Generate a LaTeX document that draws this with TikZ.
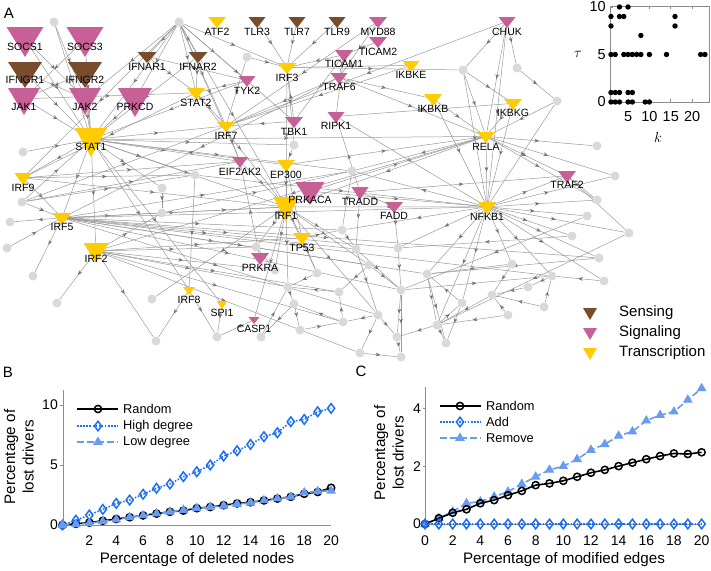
\documentclass[tikz,border=0pt]{standalone}
\usepackage{fontspec}
\setmainfont{Liberation Sans}
\usetikzlibrary{arrows.meta,decorations.markings,plotmarks}
\pgfdeclarelayer{bg}\pgfdeclarelayer{fg}\pgfsetlayers{bg,main,fg}
\definecolor{brownc}{RGB}{121,76,44}
\definecolor{pinkc}{RGB}{200,96,152}
\definecolor{yellowc}{RGB}{255,204,0}
\definecolor{bluec}{RGB}{30,110,245}
\definecolor{lbluec}{RGB}{105,155,240}
\definecolor{axisc}{RGB}{140,140,140}
\tikzset{
 edge/.style={draw=black!40, line width=0.5pt, postaction={decorate},
   decoration={markings, mark=at position 0.5 with {\arrow[black!55]{Stealth[length=4.8pt,width=3.8pt]}}}},
 gnode/.style={circle, fill=black!15, minimum size=9pt, inner sep=0pt},
 lbl/.style={font=\fontsize{10.5}{12}\selectfont, inner sep=0pt},
 panel/.style={font=\fontsize{15}{18}\selectfont, inner sep=0pt},
 tick/.style={font=\fontsize{14}{16}\selectfont, inner sep=0pt},
 axlab/.style={font=\fontsize{15.2}{18.5}\selectfont, inner sep=0pt, align=center},
 legtext/.style={font=\fontsize{15}{18}\selectfont, inner sep=0pt, anchor=west},
 plegtext/.style={font=\fontsize{12.8}{15}\selectfont, inner sep=0pt, anchor=west},
 axisline/.style={draw=axisc, line width=0.8pt},
 rnd/.style={black, line width=1.6pt, mark=o, mark size=3.6pt, mark options={solid, line width=1.5pt, fill=black!45}},
 high/.style={bluec, line width=1.6pt, dash pattern=on 1.5pt off 1.6pt, mark=diamond, mark size=4.8pt, mark options={solid, line width=1.5pt, fill=white}},
 low/.style={lbluec, line width=1.6pt, dash pattern=on 7pt off 3pt, mark=triangle*, mark size=4.6pt, mark options={solid, line width=1pt, fill=lbluec}},
}
\newcommand\tri[8]{%
  \fill[#6] ({#2-#4/2},#3) -- ({#2+#4/2},#3) -- (#2,{#3+#5}) -- cycle;
  \coordinate (#1) at (#2,{#3+#5*0.4});
  \begin{pgfonlayer}{fg}\node[lbl] (#1-l) at (#2,#8) {#7};\end{pgfonlayer}%
}
\begin{document}
\begin{tikzpicture}[x=1pt,y=-1pt]
\useasboundingbox (0,0) rectangle (711,570);
% ---------------- network: triangles
\tri{SOCS1}{25}{27}{37}{30}{pinkc}{SOCS1}{47}
\tri{SOCS3}{85}{27}{37}{30}{pinkc}{SOCS3}{47}
\tri{IFNGR1}{25}{62}{34}{26}{brownc}{IFNGR1}{80}
\tri{IFNGR2}{85}{62}{34}{26}{brownc}{IFNGR2}{80}
\tri{JAK1}{24}{88}{32}{27}{pinkc}{JAK1}{107}
\tri{JAK2}{85}{88}{32}{27}{pinkc}{JAK2}{107}
\tri{PRKCD}{135}{88}{34}{29}{pinkc}{PRKCD}{107}
\tri{STAT1}{91}{128}{32}{29}{yellowc}{STAT1}{147}
\tri{ATF2}{217}{17}{18}{11}{yellowc}{ATF2}{32}
\tri{IFNAR1}{147}{52}{19}{11}{brownc}{IFNAR1}{67}
\tri{IFNAR2}{198}{52}{19}{11}{brownc}{IFNAR2}{67}
\tri{STAT2}{196}{88}{18}{12}{yellowc}{STAT2}{103}
\tri{IRF7}{226}{122}{18}{10}{yellowc}{IRF7}{136}
\tri{TLR3}{257}{17}{17}{11}{brownc}{TLR3}{32}
\tri{TLR7}{297}{17}{17}{11}{brownc}{TLR7}{32}
\tri{TLR9}{337}{17}{17}{11}{brownc}{TLR9}{32}
\tri{MYD88}{378}{17}{18}{11}{pinkc}{MYD88}{32}
\tri{TICAM2}{378}{37}{18}{11}{pinkc}{TICAM2}{52}
\tri{TICAM1}{344}{50}{18}{12}{pinkc}{TICAM1}{64}
\tri{IRF3}{287}{63}{19}{11}{yellowc}{IRF3}{78}
\tri{TYK2}{247}{76}{17}{11}{pinkc}{TYK2}{91}
\tri{TRAF6}{339}{73}{17}{11}{pinkc}{TRAF6}{87}
\tri{IKBKE}{411}{61}{17}{11}{yellowc}{IKBKE}{75}
\tri{IKBKB}{433}{94}{18}{12}{yellowc}{IKBKB}{109}
\tri{TBK1}{294}{117}{18}{11}{pinkc}{TBK1}{132}
\tri{RIPK1}{336}{112}{17}{11}{pinkc}{RIPK1}{126}
\tri{CHUK}{507}{17}{17}{11}{pinkc}{CHUK}{32}
\tri{IKBKG}{513}{99}{18}{11}{yellowc}{IKBKG}{113}
\tri{RELA}{486}{132}{18}{11}{yellowc}{RELA}{147}
\tri{EIF2AK2}{240}{157}{16}{11}{pinkc}{EIF2AK2}{172}
\tri{IRF9}{23}{173}{17}{12}{yellowc}{IRF9}{188}
\tri{IRF5}{62}{213}{19}{12}{yellowc}{IRF5}{227}
\tri{IRF2}{96}{243}{25}{20}{yellowc}{IRF2}{259}
\tri{EP300}{286}{160}{18}{12}{yellowc}{EP300}{175}
\tri{PRKACA}{310}{182}{29}{23}{pinkc}{PRKACA}{200}
\tri{IRF1}{286}{197}{25}{25}{yellowc}{IRF1}{216}
\tri{TRADD}{360}{187}{17}{13}{pinkc}{TRADD}{202}
\tri{FADD}{394}{202}{18}{11}{pinkc}{FADD}{216}
\tri{TP53}{302}{233}{18}{12}{yellowc}{TP53}{248}
\tri{PRKRA}{260}{253}{18}{12}{pinkc}{PRKRA}{268}
\tri{TRAF2}{567}{171}{18}{12}{pinkc}{TRAF2}{185}
\tri{NFKB1}{487}{202}{18}{12}{yellowc}{NFKB1}{217}
\tri{IRF8}{189}{287}{12}{8}{yellowc}{IRF8}{300}
\tri{SPI1}{222}{301}{11}{8}{yellowc}{SPI1}{313}
\tri{CASP1}{254}{317}{11}{7}{pinkc}{CASP1}{329}
% ---------------- gray nodes
\foreach \n/\x/\y in {g1/54/22, g2/179/22, g3/247/57, g4/463/70, g5/517/68, g6/557/101,
  g7/597/146, g8/294/145, g9/23/152, g10/195/175, g11/162/188, g12/162/213, g13/22/202,
  g14/10/222, g15/7/248, g16/33/276, g17/352/171, g18/342/230, g19/256/247, g20/356/249,
  g21/398/248, g22/369/265, g23/317/273, g24/275/270, g25/427/274, g26/288/287, g27/401/290,
  g28/615/176, g29/597/200, g30/587/216, g31/629/233, g32/572/236, g33/599/258, g34/512/264,
  g35/552/276, g36/604/281, g37/528/287, g38/492/295, g39/462/303, g40/544/307, g41/378/315,
  g42/508/315, g43/343/322, g44/437/325, g45/397/337, g46/446/343, g47/360/353, g48/401/357,
  g49/57/303, g50/152/299, g51/217/337, g52/156/341, g53/261/337, g54/294/304, g55/300/330,
  g56/339/292}
  \node[gnode] (\n) at (\x,\y) {};
% ---------------- edges
\begin{pgfonlayer}{bg}
\foreach \a/\b in {g1/STAT1, g1/JAK2, SOCS1/JAK2, SOCS1/STAT1, SOCS3/JAK1, SOCS3/STAT1,
  IFNGR1/JAK2, IFNGR2/JAK1, IFNGR1/STAT1, IFNGR2/STAT1, JAK1/STAT1, JAK2/STAT1, JAK1/STAT2,
  PRKCD/STAT1, g2/IFNAR1, g2/IFNAR2, g2/STAT2, g2/IRF7, g2/TYK2, g2/IRF3, g2/STAT1, g2/JAK2,
  g2/PRKCD, g2/IRF9, g2/EIF2AK2, g2/IRF1, g2/TBK1, IFNAR1/TYK2, IFNAR1/STAT2, IFNAR2/STAT1,
  IFNAR2/STAT2, TYK2/STAT2, TYK2/STAT1, STAT2/IRF9, STAT2/IRF7, STAT2/IRF1, STAT1/IRF1,
  STAT1/IRF9, STAT1/IRF5, STAT1/IRF2, STAT1/g11, STAT1/g10, STAT1/EIF2AK2, STAT1/IRF8,
  STAT1/SPI1, STAT1/g17, STAT1/IRF7, STAT1/g8, STAT1/RELA, g9/STAT1, IRF9/g10, IRF9/IRF5,
  IRF9/EIF2AK2, IRF9/IRF1, g13/g10, g13/EIF2AK2, g13/STAT1, g13/IRF5, g13/IRF7,
  IRF5/g14, IRF5/g16, IRF5/g12, IRF5/g18, IRF5/g20, IRF5/g21, IRF5/g22, IRF5/g25, IRF5/g27,
  IRF5/g35, IRF5/g33, IRF5/g41, IRF5/IRF1, IRF5/g17, g15/IRF5,
  IRF2/g49, IRF2/g52, IRF2/g12, IRF2/g19, IRF2/g26, IRF2/g43, IRF2/g47, IRF2/g56, IRF2/TP53,
  IRF2/g24, IRF8/g52, IRF8/g51, SPI1/g51, g10/IRF8, IRF1/g50, CASP1/g51, g54/g53,
  TLR3/IRF3, TLR7/IRF3, TLR9/IRF3, MYD88/TRAF6, MYD88/IRF7, TICAM2/TICAM1, TICAM1/IRF3,
  TICAM1/TRAF6, TICAM1/TBK1, TICAM1/RIPK1, TRAF6/IKBKB, TRAF6/IRF7, TRAF6/IRF5, TRAF6/RELA,
  TBK1/IRF3, TBK1/IRF7, IKBKE/IRF3, IKBKE/IRF7, RIPK1/IKBKG, RIPK1/NFKB1, g3/IRF3, g3/IRF7,
  IRF3/g4, IRF3/IRF1, IRF3/g8, IRF7/EIF2AK2,
  CHUK/g4, CHUK/g5, CHUK/IRF7, CHUK/RELA, CHUK/NFKB1, g5/g6, g6/RELA, g6/NFKB1, g4/RELA,
  g4/NFKB1, g4/IKBKG, IKBKB/NFKB1, IKBKB/RELA, IKBKG/NFKB1, IKBKG/RELA, RELA/NFKB1, RELA/g7,
  RELA/g28, RELA/TRAF2, RELA/IRF1, RELA/g17, RELA/IRF2, RELA/g29,
  NFKB1/TRAF2, NFKB1/g29, NFKB1/g30, NFKB1/g31, NFKB1/g32, NFKB1/g33, NFKB1/g34, NFKB1/g35,
  NFKB1/IRF1, NFKB1/g18, NFKB1/g21, NFKB1/g25, NFKB1/g28, NFKB1/IRF5, NFKB1/g17, NFKB1/g36,
  NFKB1/g39, NFKB1/g44, TRAF2/g29, TRAF2/g31, TRADD/TRAF2, TRADD/RIPK1, TRADD/FADD,
  TRADD/g20, FADD/g21, EP300/IRF1, EP300/TP53, EP300/RELA, EP300/STAT1, PRKACA/RELA,
  PRKACA/NFKB1, EIF2AK2/IRF1, PRKRA/EIF2AK2, IRF1/TP53, IRF1/g19, IRF1/g24, IRF1/g26,
  IRF1/g23, IRF1/g22, IRF1/g20, IRF1/g41, IRF1/CASP1, TP53/g23, TP53/g18, g17/g18,
  g8/EP300, g11/g12, g12/IRF1, g12/g17, g10/NFKB1,
  g18/g20, g20/g41, g21/g27, g22/g27, g25/g44, g25/g46, g27/g45, g27/g48, g41/g43, g41/g45,
  g44/g39, g44/g46, g45/g48, g47/g48, g41/g47, g43/g56, g56/g26, g26/g54, g54/g55, g23/g26,
  g19/g24, g44/g45, g38/g44, g39/g25, g37/g38, g40/g38, g42/g38, g35/g37, g36/g35, g34/g25,
  g30/g27, g32/g21, g34/g38, g42/g44, g39/g46, g40/g35, g22/g56, g43/g54, g55/g43, g53/g26,
  g20/g27, g27/g35, g31/g44, g33/g25}
  \draw[edge] (\a) -- (\b);
\end{pgfonlayer}
\node[panel] (labA) at (9,13) {A};
% ---------------- inset scatter
\draw[axisline] (610,6) rectangle (709.5,102);
\foreach \t/\yy in {0/102, 5/54.5, 10/7}{
  \draw[axisline] (610,\yy) -- (613,\yy);
  \node[tick, anchor=east] (ty\t) at (606,\yy) {\fontsize{14.5}{16}\selectfont\t};}
\foreach \k in {5,10,15,20}{
  \draw[axisline] ({606.7+4.27*\k},102) -- ({606.7+4.27*\k},99);
  \draw[axisline] ({606.7+4.27*\k},6) -- ({606.7+4.27*\k},9);
  \node[tick] (tk\k) at ({606.7+4.27*\k},117) {\fontsize{14.5}{16}\selectfont\k};}
\node[tick] (tau) at (578,54) {\fontsize{15}{17}\selectfont$\tau$};
\node[tick] (kk) at (658,137) {\fontsize{15}{17}\selectfont$k$};
\foreach \k/\t in {3/10,5/10, 1/9,3/9,4/9,16/9, 1/8,16/8, 8/7,
   1/5,2/5,4/5,5/5,6/5,7/5,8/5,10/5,14/5,22/5,23/5,
   1/1,2/1,3/1,5/1,6/1, 1/0,2/0,3/0,5/0,6/0,9/0,10/0}
  \fill[black] ({606.7+4.27*\k},{102-9.5*\t}) circle (2.7);
% ---------------- legend
\fill[brownc] (583,308) -- (597,308) -- (590,320) -- cycle;
\fill[pinkc] (583,328) -- (597,328) -- (590,340) -- cycle;
\fill[yellowc] (583,348) -- (597,348) -- (590,360) -- cycle;
\node[legtext] (lsen) at (619,313) {Sensing};
\node[legtext] (lsig) at (619,333) {Signaling};
\node[legtext] (ltra) at (619,353) {Transcription};
% ---------------- panel B
\node[panel] (labB) at (8,372) {B};
\draw[axisline] (63,390) -- (63,525) -- (331,525);
\foreach \v/\yy in {0/525,5/465,10/405}{
  \draw[axisline] (63,\yy) -- (60,\yy);
  \node[tick, anchor=east] (by\v) at (58,\yy) {\v};}
\foreach \v in {2,4,...,20}{
  \node[tick] (bx\v) at ({62.5+13.43*\v},541) {\v};}
\node[axlab] (bxl) at (197,560) {Percentage of deleted nodes};
\node[axlab, rotate=90] (byl) at (19,457) {Percentage of\\lost drivers};
\begin{scope}[shift={(62.5,525)}, x=13.43pt, y=12pt]
\draw[rnd] plot coordinates {(0,0)(1,0.1)(2,0.2)(3,0.35)(4,0.5)(5,0.65)(6,0.8)(7,0.95)(8,1.1)(9,1.2)(10,1.4)(11,1.5)(12,1.65)(13,1.8)(14,1.9)(15,2.05)(16,2.2)(17,2.35)(18,2.6)(19,2.75)(20,3.1)};
\draw[high] plot coordinates {(0,0)(1,0.4)(2,0.83)(3,1.3)(4,1.8)(5,2.08)(6,2.56)(7,3.06)(8,3.42)(9,4.03)(10,4.44)(11,5.0)(12,5.75)(13,6.19)(14,6.72)(15,7.36)(16,7.69)(17,8.61)(18,8.8)(19,9.44)(20,9.72)};
\draw[low] plot coordinates {(0,0)(1,0.05)(2,0.15)(3,0.3)(4,0.45)(5,0.65)(6,0.8)(7,0.95)(8,1.1)(9,1.25)(10,1.4)(11,1.5)(12,1.6)(13,1.75)(14,1.85)(15,2.05)(16,2.2)(17,2.35)(18,2.7)(19,2.8)(20,2.85)};
\end{scope}
\draw[rnd, mark phase=2, mark repeat=3] plot coordinates {(77,409)(98,409)(118,409)};
\draw[high, mark phase=2, mark repeat=3] plot coordinates {(77,426)(98,426)(118,426)};
\draw[low, mark phase=2, mark repeat=3] plot coordinates {(77,442)(98,442)(118,442)};
\node[plegtext] (bl1) at (123,409) {Random};
\node[plegtext] (bl2) at (123,426) {High degree};
\node[plegtext] (bl3) at (123,442) {Low degree};
% ---------------- panel C
\node[panel] (labC) at (361,371) {C};
\draw[axisline] (425.5,387) -- (425.5,524) -- (702,524);
\foreach \v/\yy in {0/524,2/466.4,4/408.8}{
  \draw[axisline] (425.5,\yy) -- (422.5,\yy);
  \node[tick, anchor=east] (cy\v) at (421,\yy) {\v};}
\foreach \v in {0,2,...,20}{
  \node[tick] (cx\v) at ({425+13.83*\v},541) {\v};}
\node[axlab] (cxl) at (564,560) {Percentage of modified edges};
\node[axlab, rotate=90] (cyl) at (389,453) {Percentage of\\lost drivers};
\begin{scope}[shift={(425,524)}, x=13.83pt, y=28.8pt]
\draw[low] plot coordinates {(0,0)(1,0.2)(2,0.43)(3,0.72)(4,0.78)(5,0.95)(6,1.12)(7,1.39)(8,1.64)(9,1.88)(10,2.01)(11,2.25)(12,2.57)(13,2.77)(14,3.06)(15,3.21)(16,3.59)(17,3.78)(18,3.9)(19,4.31)(20,4.71)};
\draw[rnd] plot coordinates {(0,0)(1,0.2)(2,0.39)(3,0.51)(4,0.72)(5,0.83)(6,1.0)(7,1.15)(8,1.35)(9,1.41)(10,1.5)(11,1.64)(12,1.78)(13,1.88)(14,2.01)(15,2.13)(16,2.25)(17,2.36)(18,2.45)(19,2.43)(20,2.49)};
\draw[high] plot coordinates {(0,0)(1,0)(2,0)(3,0)(4,0)(5,0)(6,0)(7,0)(8,0)(9,0)(10,0)(11,0)(12,0)(13,0)(14,0)(15,0)(16,0)(17,0)(18,0)(19,0)(20,0)};
\end{scope}
\draw[rnd, mark phase=2, mark repeat=3] plot coordinates {(440,406)(460,406)(481,406)};
\draw[high, mark phase=2, mark repeat=3] plot coordinates {(440,422)(460,422)(481,422)};
\draw[low, mark phase=2, mark repeat=3] plot coordinates {(440,438)(460,438)(481,438)};
\node[plegtext] (cl1) at (486,406) {Random};
\node[plegtext] (cl2) at (486,422) {Add};
\node[plegtext] (cl3) at (486,438) {Remove};
\end{tikzpicture}
\end{document}
